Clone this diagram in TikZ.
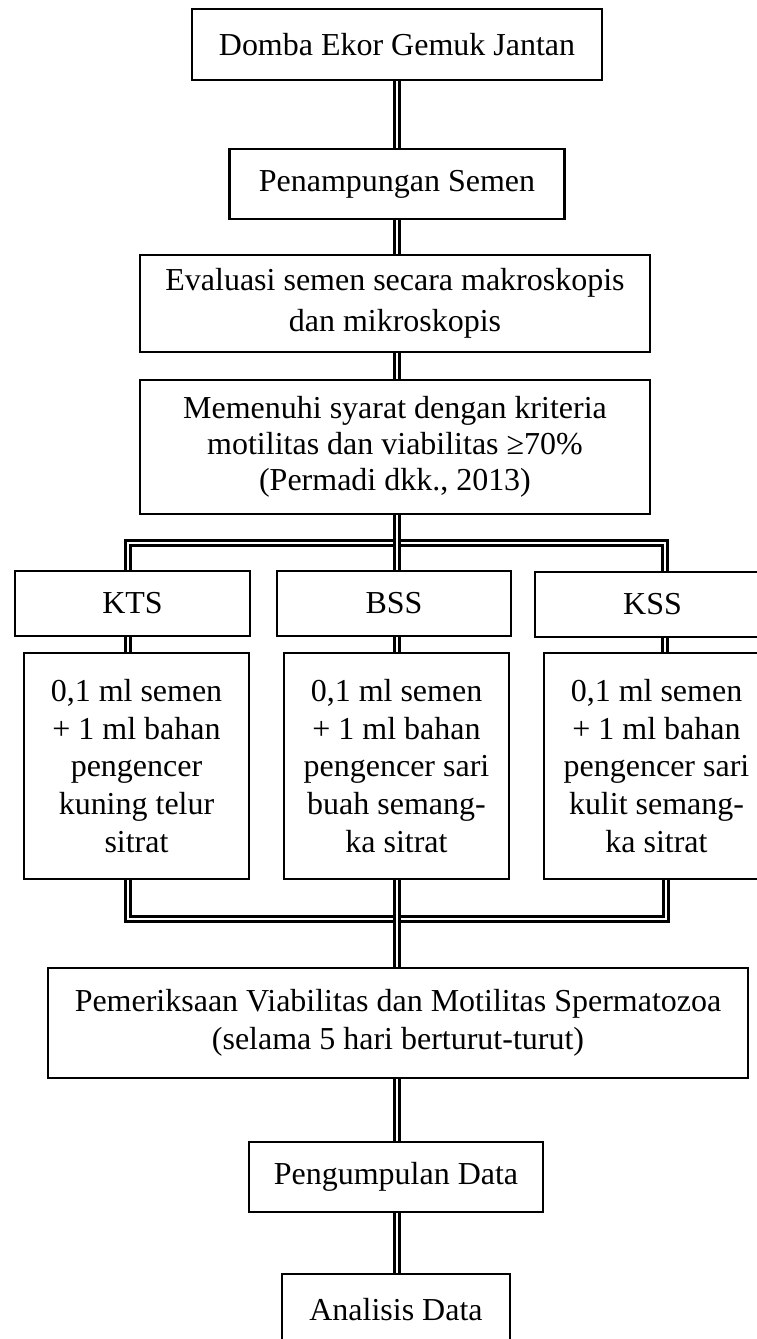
\documentclass[tikz,border=0pt]{standalone}
\usepackage{fontspec}
\setmainfont{Liberation Serif}
\usepackage{tikz}

\begin{document}
\begin{tikzpicture}[scale=0.2]\tikzstyle{every node}+=[inner sep=0pt, font=\fontsize{18.2}{21.5}\selectfont]
	  \tikzstyle{box}=[draw, black, line width=1.15pt, rectangle, align=center]
	  \tikzstyle{dbl}=[black, double, line width=1.5pt, double distance=1.1pt]
	  \path [use as bounding box, clip] (0,0) rectangle (75.7,-133.9);
	  \node [box, minimum width=8.2cm, minimum height=1.42cm] (domba) at (39.7,-4.45) {Domba Ekor Gemuk Jantan};
	  \node [box, minimum width=6.7cm, minimum height=1.4cm] (tampung) at (39.7,-18.4) {Penampungan Semen};
	  \node [box, minimum width=10.2cm, minimum height=1.94cm, font=\fontsize{18.2}{23.3}\selectfont] (evaluasi) at (39.5,-30.35) {Evaluasi semen secara makroskopis\\dan mikroskopis};
	  \node [box, minimum width=10.2cm, minimum height=2.68cm, font=\fontsize{18.2}{20.5}\selectfont] (syarat) at (39.5,-44.7) {Memenuhi syarat dengan kriteria\\motilitas dan viabilitas ≥70\%\\(Permadi dkk., 2013)};
	  \node [box, minimum width=4.7cm, minimum height=1.3cm] (kts) at (13.25,-60.35) {KTS};
	  \node [box, minimum width=4.68cm, minimum height=1.3cm] (bss) at (39.4,-60.35) {BSS};
	  \node [box, minimum width=4.7cm, minimum height=1.3cm] (kss) at (65.25,-60.45) {KSS};
	  \node [box, minimum width=4.5cm, minimum height=4.52cm] (ktsisi) at (13.65,-76.6) {0,1 ml semen\\+ 1 ml bahan\\pengencer\\kuning telur\\sitrat};
	  \node [box, minimum width=4.5cm, minimum height=4.52cm] (bssisi) at (39.65,-76.6) {0,1 ml semen\\+ 1 ml bahan\\pengencer sari\\buah semang-\\ka sitrat};
	  \node [box, minimum width=4.5cm, minimum height=4.52cm] (kssisi) at (65.65,-76.6) {0,1 ml semen\\+ 1 ml bahan\\pengencer sari\\kulit semang-\\ka sitrat};
	  \node [box, minimum width=14cm, minimum height=2.2cm] (periksa) at (39.8,-102.3) {Pemeriksaan Viabilitas dan Motilitas Spermatozoa\\(selama 5 hari berturut-turut)};
	  \node [box, minimum width=5.88cm, minimum height=1.4cm] (kumpul) at (39.6,-117.7) {Pengumpulan Data};
	  \node [box, minimum width=4.56cm, minimum height=1.42cm] (analisis) at (39.6,-130.95) {Analisis Data};
	  \coordinate (barL) at (12.8,-54.3);
	  \coordinate (barR) at (66.5,-54.3);
	  \coordinate (barBL) at (12.8,-91.9);
	  \coordinate (barBR) at (66.6,-91.9);
	  \draw [dbl] (domba.south -| 39.7,0) -- (tampung.north -| 39.7,0);
	  \draw [dbl] (tampung.south -| 39.7,0) -- (evaluasi.north -| 39.7,0);
	  \draw [dbl] (evaluasi.south -| 39.7,0) -- (syarat.north -| 39.7,0);
	  \draw [dbl] (kts.north -| barL) -- (barL) -- (barR) -- (kss.north -| barR);
	  \draw [dbl] (syarat.south -| 39.7,0) -- (bss.north -| 39.7,0);
	  \draw [dbl] (kts.south -| barL) -- (ktsisi.north -| barL);
	  \draw [dbl] (bss.south -| 39.7,0) -- (bssisi.north -| 39.7,0);
	  \draw [dbl] (kss.south -| barR) -- (kssisi.north -| barR);
	  \draw [dbl] (ktsisi.south -| barBL) -- (barBL) -- (barBR) -- (kssisi.south -| barBR);
	  \draw [dbl] (bssisi.south -| 39.7,0) -- (periksa.north -| 39.7,0);
	  \draw [dbl] (periksa.south -| 39.7,0) -- (kumpul.north -| 39.7,0);
	  \draw [dbl] (kumpul.south -| 39.7,0) -- (analisis.north -| 39.7,0);
	\end{tikzpicture}
\end{document}
